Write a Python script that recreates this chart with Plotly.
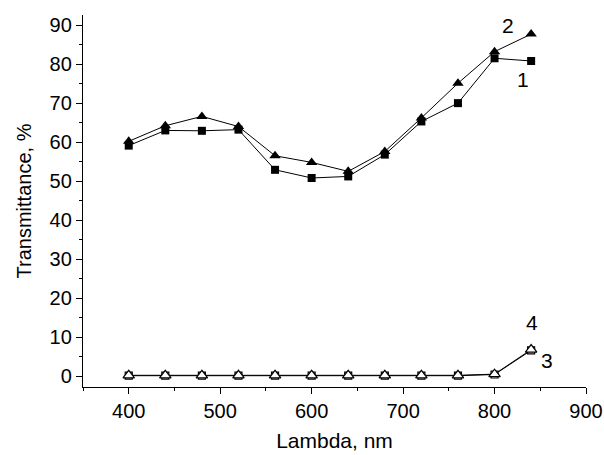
import plotly.graph_objects as go

wavelength = [400, 440, 480, 520, 560, 600, 640, 680, 720, 760, 800, 840]
series1 = [59.1, 63.0, 62.9, 63.2, 52.9, 50.8, 51.2, 56.8, 65.3, 70.0, 81.5, 80.8]
series2 = [60.2, 64.2, 66.6, 64.0, 56.5, 54.8, 52.5, 57.6, 66.2, 75.1, 83.2, 87.7]
series3 = [0.1, 0.1, 0.1, 0.1, 0.1, 0.1, 0.1, 0.1, 0.1, 0.1, 0.4, 6.6]
series4 = [0.2, 0.2, 0.2, 0.2, 0.2, 0.2, 0.2, 0.2, 0.2, 0.2, 0.5, 6.8]

labels = ["1", "2", "3", "4"]
label_x = [831, 815, 857, 841]
label_y = [76, 89.8, 3.9, 13.7]

FONT = "Liberation Sans, Arial, sans-serif"

fig = go.Figure()
fig.add_trace(go.Scatter(x=wavelength, y=series1, mode="lines+markers",
                         line=dict(color="black", width=1),
                         marker=dict(symbol="square", size=8, color="black"), name="1"))
fig.add_trace(go.Scatter(x=wavelength, y=series2, mode="lines+markers",
                         line=dict(color="black", width=1),
                         marker=dict(symbol="triangle-up", size=10, color="black"), name="2"))
fig.add_trace(go.Scatter(x=wavelength, y=series3, mode="lines+markers",
                         line=dict(color="black", width=1),
                         marker=dict(symbol="square", size=7, color="white",
                                     line=dict(color="black", width=1.2)), name="3"))
fig.add_trace(go.Scatter(x=wavelength, y=series4, mode="lines+markers",
                         line=dict(color="black", width=1),
                         marker=dict(symbol="triangle-up", size=10, color="white",
                                     line=dict(color="black", width=1.2)), name="4"))

for t, x, y in zip(labels, label_x, label_y):
    fig.add_annotation(x=x, y=y, text=t, showarrow=False,
                       font=dict(family=FONT, size=21, color="black"))

fig.update_layout(
    width=604, height=455,
    margin=dict(l=83, r=18, t=15, b=68, autoexpand=False),
    paper_bgcolor="white", plot_bgcolor="white",
    showlegend=False,
    font=dict(family=FONT, size=20, color="black"),
)
fig.update_xaxes(
    range=[350, 900], dtick=100, tick0=0, automargin=False,
    showgrid=False, zeroline=False,
    showline=True, linecolor="black", linewidth=1.3,
    ticks="outside", ticklen=6, tickwidth=1.3, tickcolor="black",
    minor=dict(dtick=50, tick0=0, ticks="outside", ticklen=3, tickwidth=1.3, tickcolor="black"),
    title=dict(text="Lambda, nm", font=dict(size=21), standoff=12),
)
fig.update_yaxes(
    range=[-2.8, 92.6], dtick=10, tick0=0, automargin=False,
    showgrid=False, zeroline=False,
    showline=True, linecolor="black", linewidth=1.3,
    ticks="outside", ticklen=6, tickwidth=1.3, tickcolor="black",
    minor=dict(dtick=5, tick0=0, ticks="outside", ticklen=3, tickwidth=1.3, tickcolor="black"),
    title=dict(text="Transmittance, %", font=dict(size=20), standoff=12),
)

fig.write_html("out.html", config={"displayModeBar": False},
               post_script="document.body.style.margin='0px';document.body.style.overflow='hidden';")
